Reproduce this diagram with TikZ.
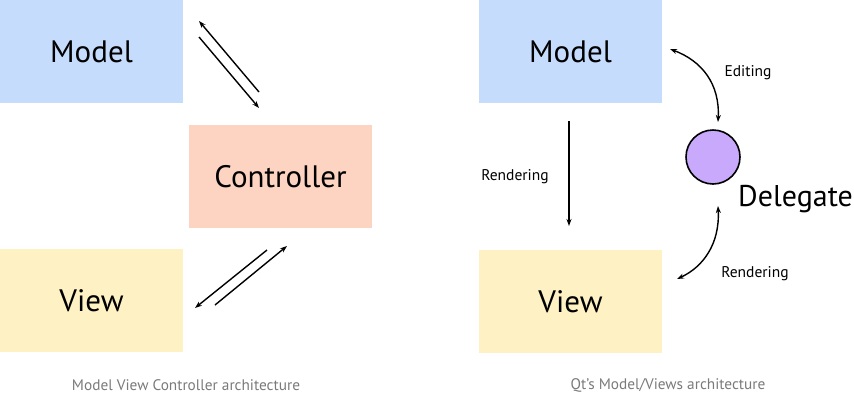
\documentclass[tikz,border=0pt]{standalone}
\usepackage{fontspec}
\setmainfont{PT Sans}
\usetikzlibrary{arrows.meta, positioning}

\definecolor{modelblue}{HTML}{C5DCFC}
\definecolor{ctrlpeach}{HTML}{FDD3C1}
\definecolor{viewyellow}{HTML}{FEF1C4}
\definecolor{delegpurple}{HTML}{C9A9FB}
\definecolor{capgray}{HTML}{7A7A7A}

\begin{document}
\begin{tikzpicture}[x=1pt, y=-1pt,
        box/.style={minimum width=183pt, minimum height=103pt, inner sep=0pt, outer sep=0pt, anchor=north west, font=\fontsize{31}{38}\selectfont},
        link/.style={line width=1.4pt, -{Stealth[length=7pt, width=5pt]}},
        twolink/.style={line width=1.4pt, {Stealth[length=7pt, width=5pt]}-{Stealth[length=7pt, width=5pt]}},
        smalllabel/.style={font=\fontsize{15.5}{18}\selectfont},
        caption/.style={font=\fontsize{15.3}{18}\selectfont, text=capgray}
    ]
    \useasboundingbox (0,0) rectangle (854,397);

    % MVC
    \node[box, fill=modelblue] (ml) at (0,0) {Model};
    \node[box, fill=ctrlpeach] (ctrl) at (189,125) {Controller};
    \node[box, fill=viewyellow] (vl) at (0,249) {View};

    \coordinate (a1) at (259,92);  \coordinate (a2) at (199,21);
    \coordinate (b1) at (199,37);  \coordinate (b2) at (259,108);
    \coordinate (c1) at (267,250); \coordinate (c2) at (195,308);
    \coordinate (d1) at (215,305); \coordinate (d2) at (287,246);
    \draw[link] (a1) -- (a2);
    \draw[link] (b1) -- (b2);
    \draw[link] (c1) -- (c2);
    \draw[link] (d1) -- (d2);

    \node[caption] (capl) at (186,385) {Model View Controller architecture};

    % Qt
    \node[box, fill=modelblue] (mr) at (479,0) {Model};
    \node[box, fill=viewyellow] (vr) at (479,250) {View};
    \node[circle, draw, line width=1.6pt, fill=delegpurple, minimum size=54pt, inner sep=0pt] (dg) at (713,157) {};
    \node[font=\fontsize{30}{36}\selectfont, anchor=west, inner sep=0pt] (dgl) at (738,199) {Delegate};

    \coordinate (r1) at (569,121); \coordinate (r2) at (569,226);
    \draw[link] (r1) -- (r2);
    \node[smalllabel] (rl) at (515,177) {Rendering};

    \coordinate (e1) at (670,49);  \coordinate (e2) at (718,122);
    \draw[twolink] (e1) .. controls +(32,12) and +(2,-38) .. (e2);
    \node[smalllabel] (el) at (748,73) {Editing};

    \coordinate (f1) at (718,206); \coordinate (f2) at (677,279);
    \draw[twolink] (f1) .. controls +(2,38) and +(26,-12) .. (f2);
    \node[smalllabel] (fl) at (755,274) {Rendering};

    \node[caption] (capr) at (668,385) {Qt's Model/Views architecture};
\end{tikzpicture}
\end{document}
